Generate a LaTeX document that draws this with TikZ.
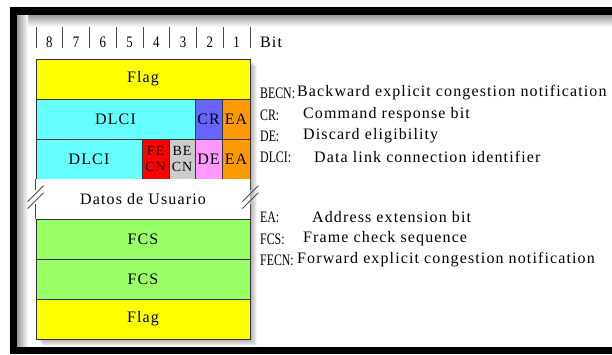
\documentclass[tikz,border=0pt]{standalone}
\usepackage{fontspec}
\setmainfont{Liberation Serif}[LetterSpace=7]
\newfontfamily\keyfont{Liberation Serif}
\usetikzlibrary{calc}
\usepackage{xcolor}
\definecolor{colorffff00}{HTML}{FFFF00}
\definecolor{color66ffff}{HTML}{66FFFF}
\definecolor{color6666ff}{HTML}{6666FF}
\definecolor{colorff9900}{HTML}{FF9900}
\definecolor{colorff0000}{HTML}{FF0000}
\definecolor{colorcccccc}{HTML}{CCCCCC}
\definecolor{colorff99ff}{HTML}{FF99FF}
\definecolor{color99ff66}{HTML}{99FF66}
% narrow key of a legend line
\newcommand\legendkey[1]{\scalebox{0.74}[1]{\keyfont #1}}

\begin{document}
\begin{tikzpicture}
    [x=1pt,y=-1pt,  % pixel-like units, y downwards
     field/.style={rectangle, draw=black!80, line width=0.8pt, inner sep=0pt, minimum height=40pt, font=\fontsize{16}{13}\selectfont, align=center},
     stacked/.style={field, font=\fontsize{14}{15.5}\selectfont},
     legend/.style={anchor=west, inner sep=0pt, font=\fontsize{16}{15}\selectfont},
     edge/.style={draw=black!70, line width=0.8pt},
    ]
\useasboundingbox (0,0) rectangle (612,354);

% frame with inner shade
\shade[top color=black!40, bottom color=white] (17,14.7) rectangle (612,27);
\shade[left color=black!40, right color=white] (17,14.7) rectangle (28,347);
\fill[black] (10,7) rectangle (612,14.7);
\fill[black] (10,7) rectangle (17,354);
\fill[black] (10,347) rectangle (612,354);

% bit ruler
\foreach \i in {0,...,8}
    \draw[edge] (36+26.75*\i,27) -- (36+26.75*\i,48);
\foreach \n [count=\i] in {8,7,6,5,4,3,2,1}
    \node[legend, anchor=center] (bit\n) at (22.6+26.75*\i,42) {\scalebox{0.8}[1]{\n}};
\node[legend] (bit_label) at (260,42) {Bit};

% shadow behind the frame fields
\foreach \s in {1,...,7}
    \fill[black, opacity=0.05] (36+\s,59+\s) rectangle (250+\s,339+\s);

% frame fields
\node[field, fill=colorffff00, minimum width=214pt] (flag_top) at (143,79) {Flag};
\node[field, fill=color66ffff, minimum width=159pt] (dlci_a) at (115.5,119) {DLCI};
\node[field, fill=color6666ff, minimum width=27pt] (cr) at (208.5,119) {CR};
\node[field, fill=colorff9900, minimum width=28pt] (ea_a) at (236,119) {EA};
\node[field, fill=color66ffff, minimum width=106pt] (dlci_b) at (89,159) {DLCI};
\node[stacked, fill=colorff0000, minimum width=27pt] (fecn) at (155.5,159) {FE\\CN};
\node[stacked, fill=colorcccccc, minimum width=26pt] (becn) at (182,159) {BE\\CN};
\node[field, fill=colorff99ff, minimum width=27pt] (de) at (208.5,159) {DE};
\node[field, fill=colorff9900, minimum width=28pt] (ea_b) at (236,159) {EA};
\node[field, fill=white, draw=none, minimum width=214pt] (datos) at (143,199) {Datos de Usuario};
\node[field, fill=color99ff66, minimum width=214pt] (fcs_a) at (143,239) {FCS};
\node[field, fill=color99ff66, minimum width=214pt] (fcs_b) at (143,279) {FCS};
\node[field, fill=colorffff00, minimum width=214pt] (flag_bottom) at (143,319) {Flag};

% broken sides of the user data field
\foreach \side in {west,east} {
    \draw[edge] (datos.north \side) -- ++(0,11);
    \draw[edge] (datos.south \side) -- ++(0,-15);
    \draw[edge] ($(datos.north \side)+(-8,23)$) -- ++(16,-16);
    \draw[edge] ($(datos.north \side)+(-8,30)$) -- ++(16,-16);
}

% legend
\node[legend] (becn_key) at (260,93) {\legendkey{BECN:}};
\node[legend] (becn_txt) at (297,93) {Backward explicit congestion notification};
\node[legend] (cr_key) at (260,115) {\legendkey{CR:}};
\node[legend] (cr_txt) at (303,115) {Command response bit};
\node[legend] (de_key) at (260,136) {\legendkey{DE:}};
\node[legend] (de_txt) at (303,136) {Discard eligibility};
\node[legend] (dlci_key) at (260,157) {\legendkey{DLCI:}};
\node[legend] (dlci_txt) at (314,157) {Data link connection identifier};
\node[legend] (ea_key) at (260,217) {\legendkey{EA:}};
\node[legend] (ea_txt) at (312,217) {Address extension bit};
\node[legend] (fcs_key) at (260,239) {\legendkey{FCS:}};
\node[legend] (fcs_txt) at (303,239) {Frame check sequence};
\node[legend] (fecn_key) at (260,260) {\legendkey{FECN:}};
\node[legend] (fecn_txt) at (297,260) {Forward explicit congestion notification};

\end{tikzpicture}
\end{document}
